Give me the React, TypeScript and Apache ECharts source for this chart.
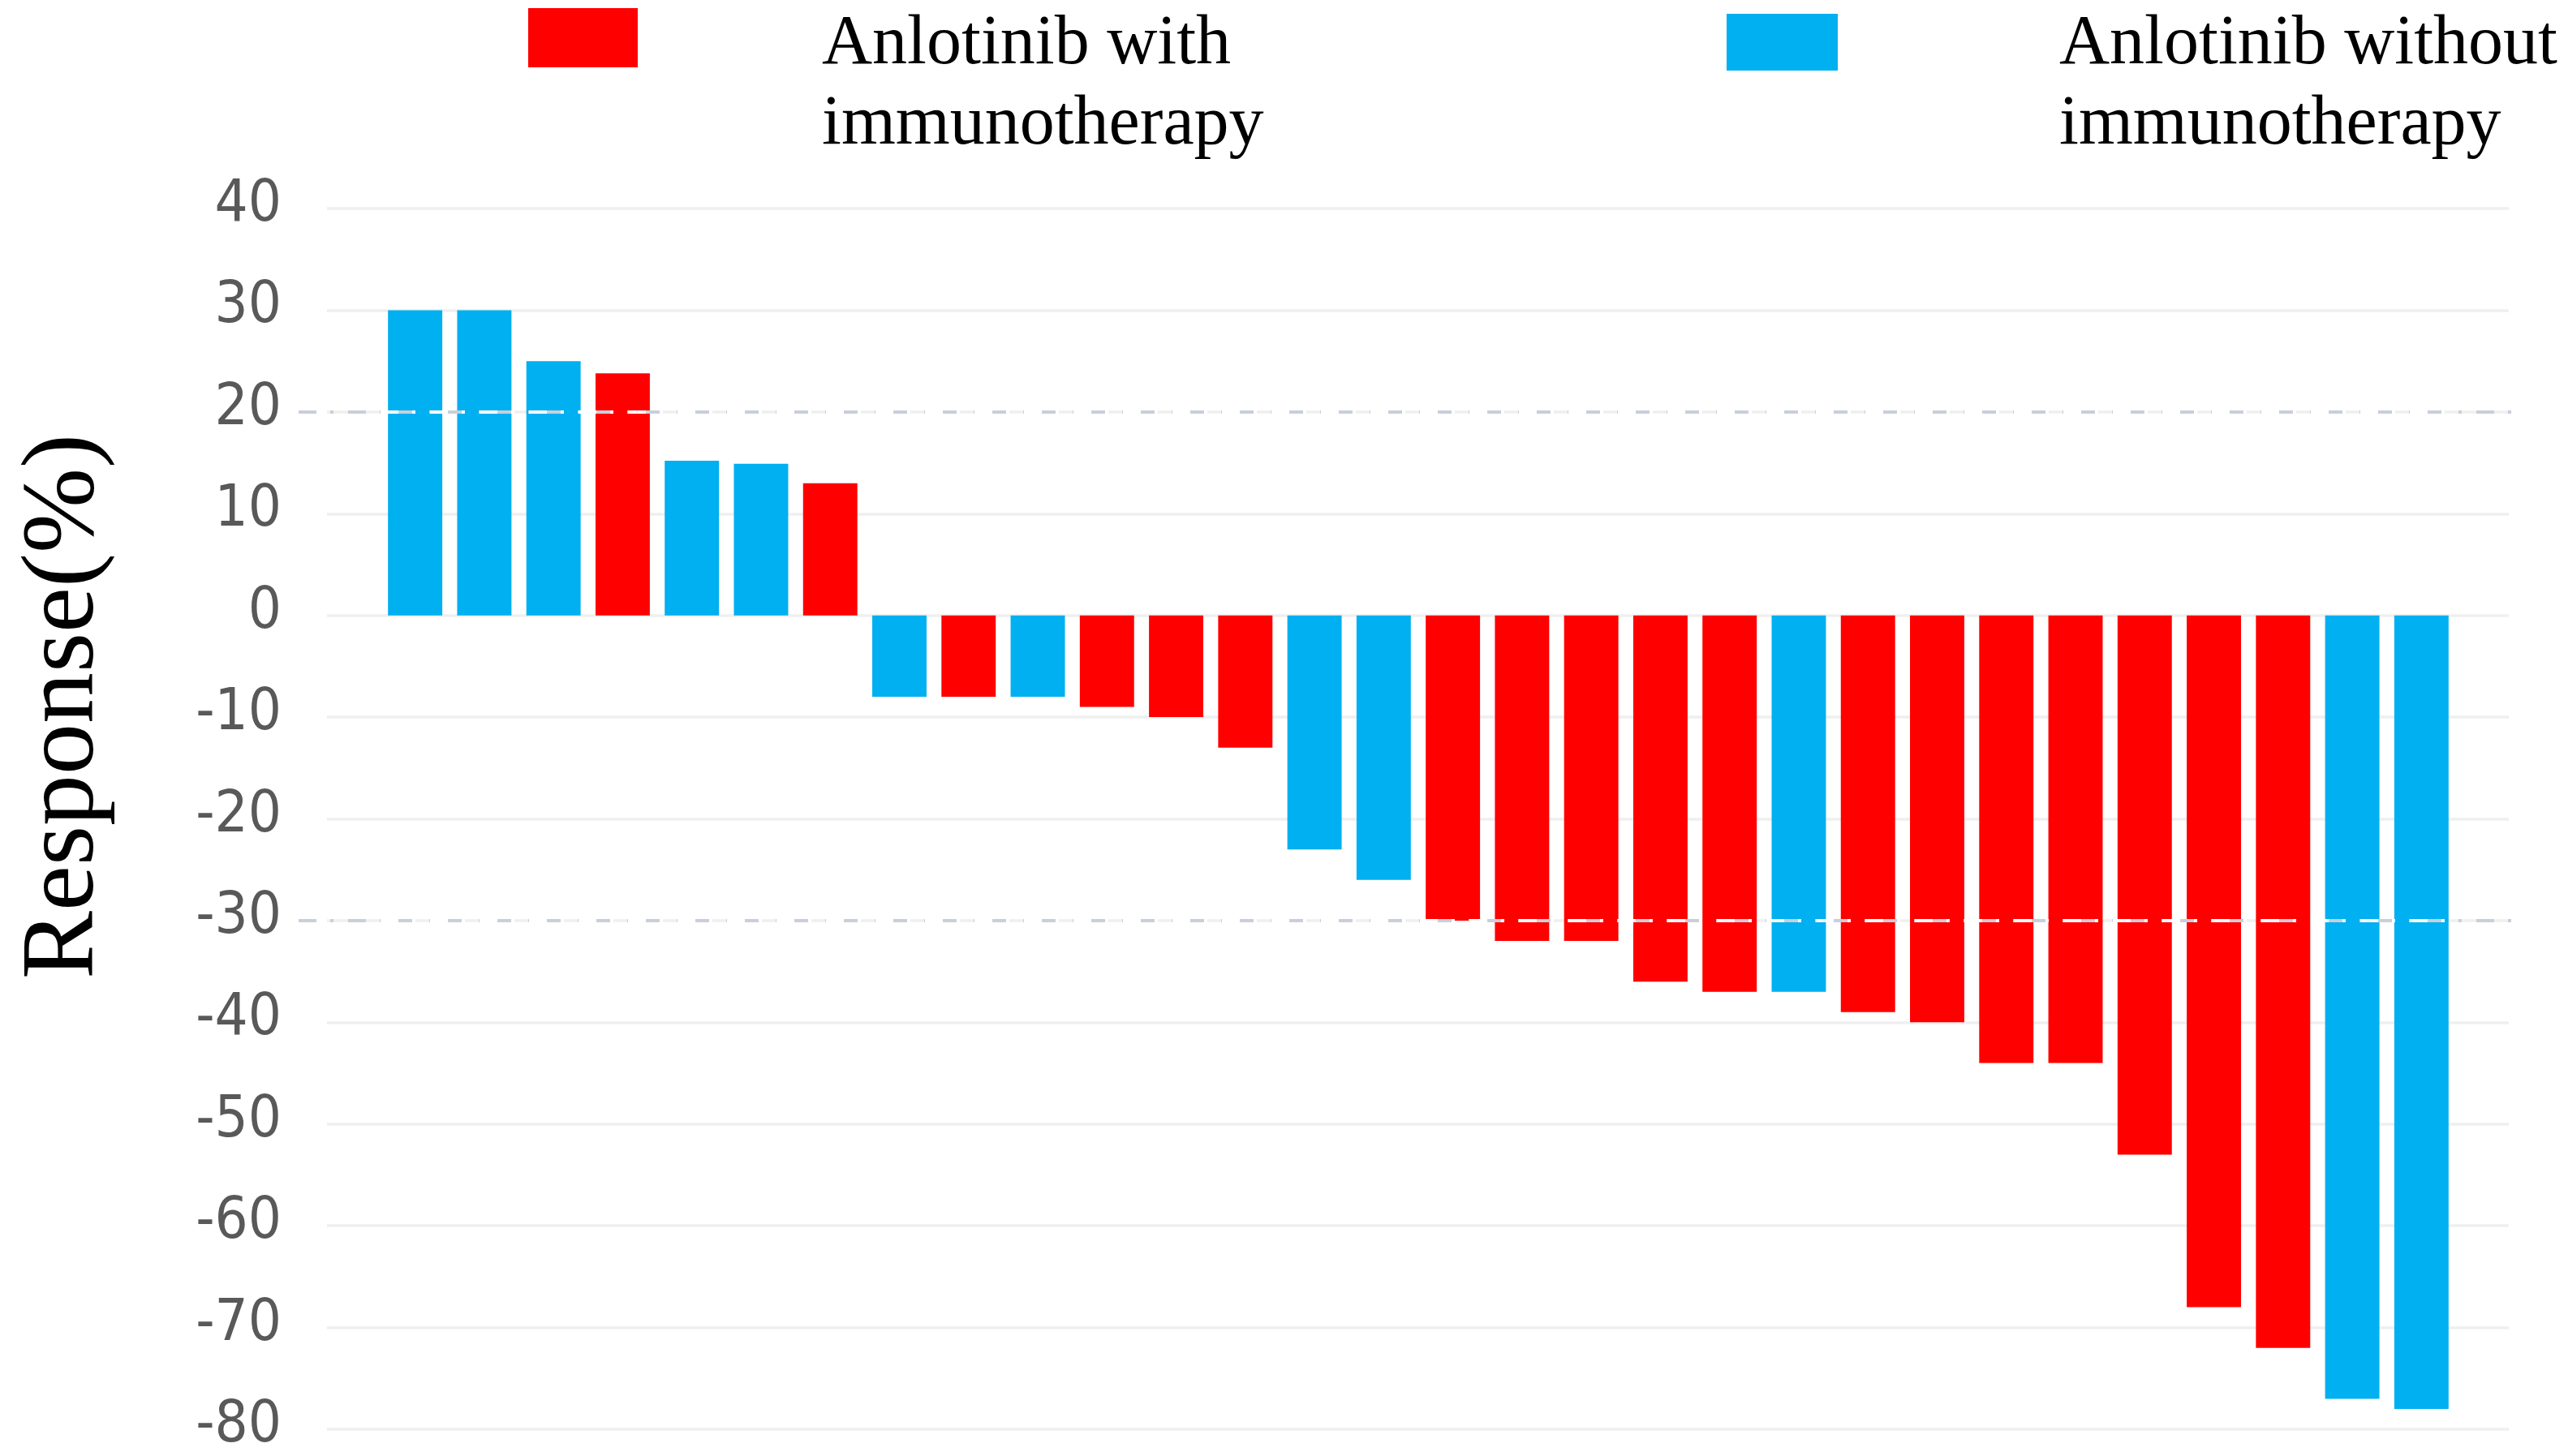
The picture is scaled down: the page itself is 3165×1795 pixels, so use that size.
import React, { useEffect, useRef } from "react";
import * as echarts from "echarts";

// ---- data ----
const patients: string[] = Array.from({ length: 30 }, (_, i) => `P${i + 1}`);
const responses: number[] = [
  30, 30, 25, 23.8, 15.2, 14.9, 13, -8, -8, -8, -9, -10, -13, -23, -26, -30,
  -32, -32, -36, -37, -37, -39, -40, -44, -44, -53, -68, -72, -77, -78,
];
// "W" = Anlotinib with immunotherapy, "O" = Anlotinib without immunotherapy
const groups: string[] = [
  "O", "O", "O", "W", "O", "O", "W", "O", "W", "O", "W", "W", "W", "O", "O",
  "W", "W", "W", "W", "W", "O", "W", "W", "W", "W", "W", "W", "W", "O", "O",
];
const seriesLine1: string[] = ["Anlotinib with", "Anlotinib without"];
const seriesLine2: string[] = ["immunotherapy", "immunotherapy"];
const seriesKeys: string[] = ["W", "O"];
const seriesColors: string[] = ["#FF0000", "#00B0F0"];
const yMin = -80;
const yMax = 40;
const yInterval = 10;
const referenceLines: number[] = [20, -30];
const yTitle = "Response(%)";

const W = 3165;
const H = 1795;
const TOP = 257;
const BOTTOM = H - 1762;

const LEGEND_FONT = "86px 'Liberation Serif', 'Times New Roman', serif";

export default function App() {
  const ref = useRef<HTMLDivElement>(null);

  useEffect(() => {
    if (!ref.current) return;
    const chart = echarts.init(ref.current, undefined, { renderer: "svg" });

    const yBase = {
      type: "value" as const,
      min: yMin,
      max: yMax,
      interval: yInterval,
    };

    const barSeries = seriesKeys.map((k, si) => ({
      name: `${seriesLine1[si]} ${seriesLine2[si]}`,
      type: "bar" as const,
      xAxisIndex: 1,
      yAxisIndex: 1,
      barGap: "-100%",
      barCategoryGap: "21.5%",
      z: 2,
      itemStyle: { color: seriesColors[si] },
      data: responses.map((v, i) => (groups[i] === k ? v : null)),
    }));

    const dash = [22, 17, 4, 18];

    const legendText = (x: number, y: number, text: string) => ({
      type: "text",
      x,
      y,
      style: {
        text,
        font: LEGEND_FONT,
        lineHeight: 80,
        fill: "#000000",
        textAlign: "left",
        textVerticalAlign: "middle",
      },
    });

    chart.setOption({
      animation: false,
      backgroundColor: "#ffffff",
      grid: [
        { left: 403, right: W - 3092, top: TOP, bottom: BOTTOM },
        { left: 469, right: W - 3027, top: TOP, bottom: BOTTOM },
        { left: 368, right: W - 3112, top: TOP, bottom: BOTTOM },
      ],
      xAxis: [0, 1, 2].map((g) => ({
        type: "category",
        gridIndex: g,
        data: patients,
        show: false,
      })),
      yAxis: [
        {
          ...yBase,
          gridIndex: 0,
          axisLine: { show: false },
          axisTick: { show: false },
          axisLabel: {
            show: true,
            margin: 56,
            color: "#595959",
            fontSize: 72,
            lineHeight: 20,
            verticalAlign: "bottom",
            fontFamily: "'DejaVu Sans Condensed', 'Liberation Sans Narrow', 'DejaVu Sans', sans-serif",
          },
          splitLine: { show: true, lineStyle: { color: "#efefef", width: 3.5 } },
        },
        { ...yBase, gridIndex: 1, show: false, splitLine: { show: false } },
        { ...yBase, gridIndex: 2, show: false, splitLine: { show: false } },
      ],
      series: [
        {
          name: "ref-bg",
          type: "line",
          xAxisIndex: 2,
          yAxisIndex: 2,
          data: [],
          z: 1,
          silent: true,
          markLine: {
            silent: true,
            symbol: "none",
            label: { show: false },
            lineStyle: { color: "#c8cfdb", width: 4, type: dash },
            data: referenceLines.map((v) => ({ yAxis: v })),
          },
        },
        ...barSeries,
        {
          name: "ref-fg",
          type: "line",
          xAxisIndex: 1,
          yAxisIndex: 1,
          data: [],
          z: 5,
          silent: true,
          markLine: {
            silent: true,
            symbol: "none",
            label: { show: false },
            z: 5,
            lineStyle: { color: "#ffffff", width: 4, type: dash },
            data: referenceLines.map((v) => ({ yAxis: v })),
          },
        },
      ],
      graphic: [
        {
          type: "rect",
          shape: { x: 651, y: 10, width: 135, height: 73 },
          style: { fill: seriesColors[0] },
        },
        legendText(1013, 49, seriesLine1[0]),
        legendText(1013, 148, seriesLine2[0]),
        {
          type: "rect",
          shape: { x: 2128, y: 17, width: 137, height: 70 },
          style: { fill: seriesColors[1] },
        },
        legendText(2538, 49, seriesLine1[1]),
        legendText(2538, 148, seriesLine2[1]),
        {
          type: "text",
          x: 71,
          y: 871,
          rotation: Math.PI / 2,
          style: {
            text: yTitle,
            font: "126px 'Liberation Serif', 'Times New Roman', serif",
            lineHeight: 110,
            fill: "#000000",
            textAlign: "center",
            textVerticalAlign: "middle",
          },
        },
      ],
    });

    return () => chart.dispose();
  }, []);

  return (
    <div
      ref={ref}
      style={{ position: "fixed", left: 0, top: 0, width: W, height: H }}
    />
  );
}
